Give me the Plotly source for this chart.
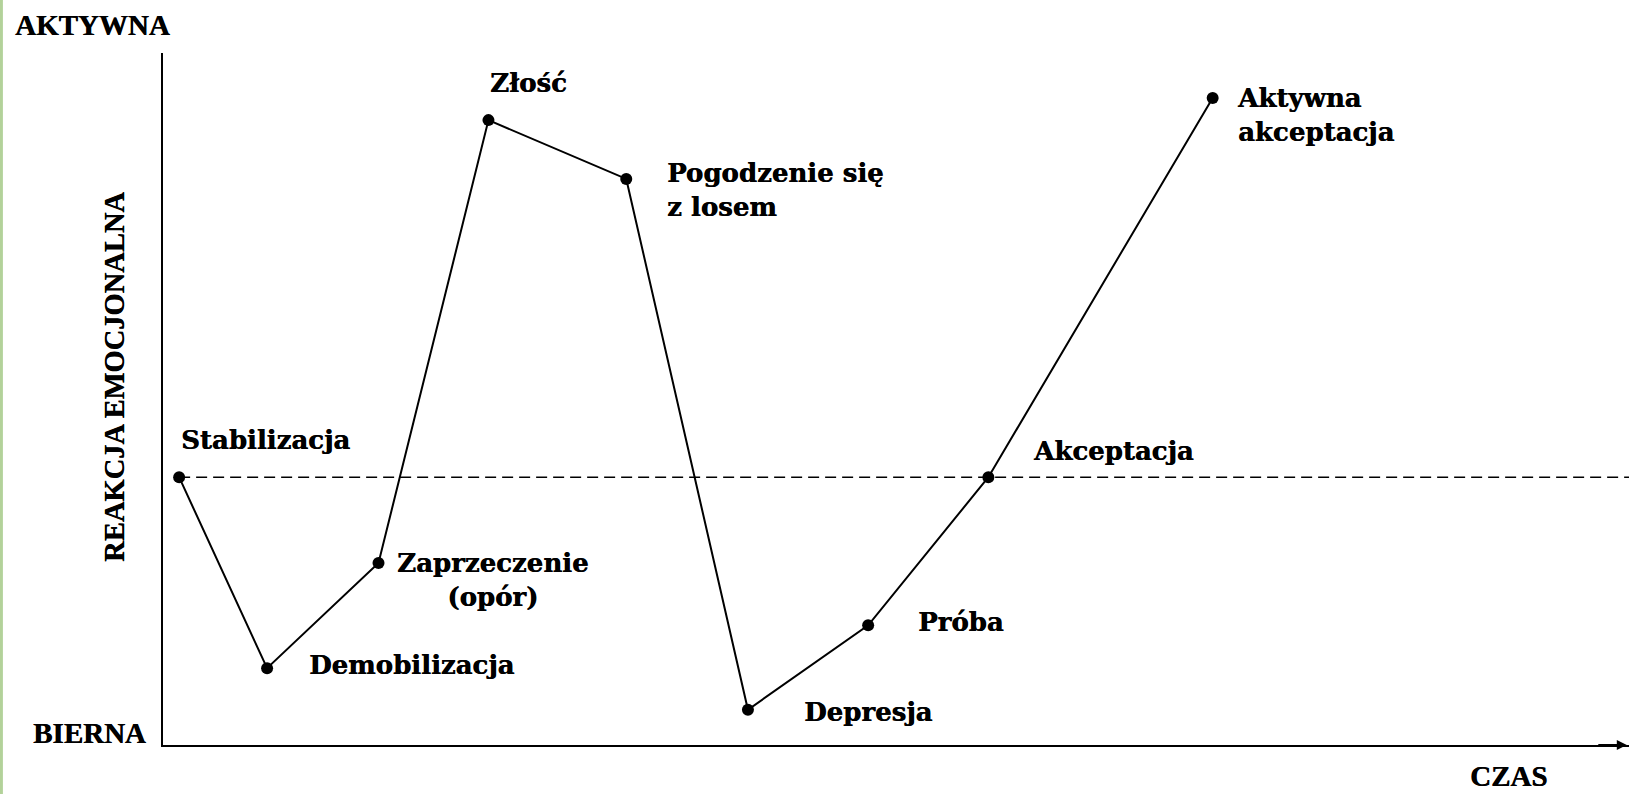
import plotly.graph_objects as go

# Fazy reakcji emocjonalnej w czasie
etapy = ["Stabilizacja", "Demobilizacja", "Zaprzeczenie<br>(opór)", "Złość",
         "Pogodzenie się<br>z losem", "Depresja", "Próba", "Akceptacja",
         "Aktywna<br>akceptacja"]
czas = [1.1, 7.1, 14.7, 22.2, 31.6, 39.9, 48.1, 56.3, 71.6]
reakcja = [38.7, 11.1, 26.3, 90.3, 81.8, 5.1, 17.3, 38.7, 93.5]
poziom_bazowy = 38.7

# przesunięcia etykiet względem punktów (px)
etykiety_dx = [0, 40, 16, 0, 39, 54, 48, 43, 22]
etykiety_dy = [37, 3, -17, 37, -11, -2, 3, 26, -17]

fig = go.Figure()

# linia przerywana - poziom wyjściowy
fig.add_trace(go.Scatter(
    x=[czas[0], 100], y=[poziom_bazowy, poziom_bazowy], mode="lines",
    line=dict(color="black", width=1.6, dash="11px,6px"),
    hoverinfo="skip", showlegend=False))

# krzywa
fig.add_trace(go.Scatter(
    x=czas, y=reakcja, mode="lines+markers",
    line=dict(color="black", width=2),
    marker=dict(color="black", size=12),
    showlegend=False))

label_font = dict(family="DejaVu Serif", size=26, color="black", weight=700,
                  shadow="0.5px 0 0 black")
for name, x, y, dx, dy in zip(etapy, czas, reakcja, etykiety_dx, etykiety_dy):
    fig.add_annotation(
        x=x, y=y, text=name, showarrow=False,
        xanchor="left", yanchor="middle", xshift=dx, yshift=dy,
        align="center" if name.startswith("Zaprzeczenie") else "left",
        font=label_font)

axis_font = dict(family="Liberation Serif", size=29, color="black", weight=700,
                 shadow="0.5px 0 0 black")
fig.add_annotation(x=-0.1023, y=1.0405, xref="paper", yref="paper",
                   text="AKTYWNA", showarrow=False,
                   xanchor="left", yanchor="middle", font=axis_font)
fig.add_annotation(x=-0.0102, y=0.0173, xref="paper", yref="paper",
                   text="BIERNA", showarrow=False,
                   xanchor="right", yanchor="middle", font=axis_font)
fig.add_annotation(x=0.918, y=-0.0708, xref="paper", yref="paper",
                   text="CZAS", showarrow=False,
                   xanchor="center", yanchor="bottom", font=axis_font)
fig.add_annotation(x=-0.0327, y=0.532, xref="paper", yref="paper",
                   text="REAKCJA EMOCJONALNA", showarrow=False,
                   textangle=-90, xanchor="center", yanchor="middle",
                   font=dict(axis_font, size=28.5))

# strzałka osi czasu
fig.add_annotation(x=0.9985, y=0, xref="paper", yref="paper", ax=-30, ay=0,
                   text="", showarrow=True, arrowhead=2, arrowsize=1,
                   arrowwidth=2, arrowcolor="black")

# zielony pasek przy lewej krawędzi
fig.add_shape(type="rect", xref="paper", yref="paper",
              x0=-0.1112, x1=-0.1092, y0=-0.0708, y1=1.0766,
              fillcolor="#b3d29a", line=dict(width=0), layer="below")

fig.update_layout(
    width=1629, height=794,
    margin=dict(l=163, r=0, t=53, b=49),
    plot_bgcolor="white", paper_bgcolor="white",
    xaxis=dict(range=[0, 100], showgrid=False, zeroline=False,
               showticklabels=False, ticks="", showline=True,
               linecolor="black", linewidth=2),
    yaxis=dict(range=[0, 100], showgrid=False, zeroline=False,
               showticklabels=False, ticks="", showline=True,
               linecolor="black", linewidth=2),
)

fig.write_html("out.html", config={"displayModeBar": False},
               post_script="document.body.style.margin='0';")
